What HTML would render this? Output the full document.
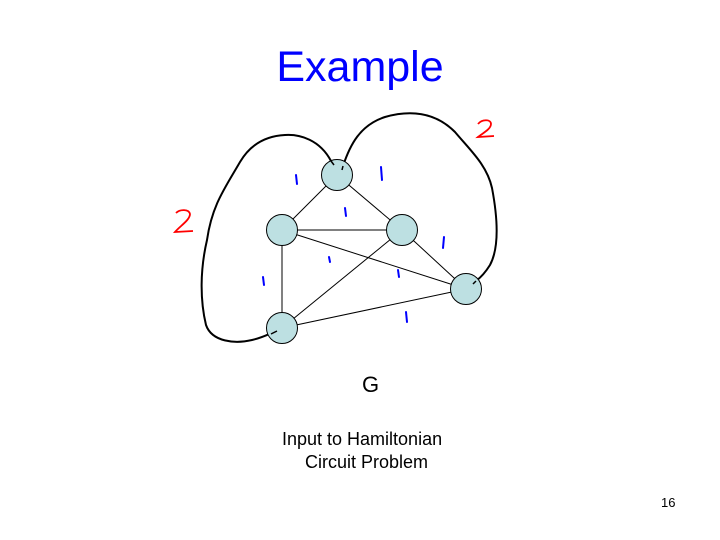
<!DOCTYPE html>
<html><head><style>
body{margin:0;width:720px;height:540px;background:#fff;position:relative;font-family:"Liberation Sans",sans-serif;overflow:hidden}
.t{position:absolute;white-space:nowrap}
</style></head><body>
<div class="t" style="left:0;width:720px;top:43px;text-align:center;font-size:43px;color:#0000ff">Example</div>
<svg width="720" height="540" style="position:absolute;left:0;top:0">
<g stroke="#000" stroke-width="1" fill="none">
<line x1="337" y1="175" x2="282" y2="230"/>
<line x1="337" y1="175" x2="402" y2="230"/>
<line x1="282" y1="230" x2="402" y2="230"/>
<line x1="282" y1="230" x2="466" y2="289"/>
<line x1="282" y1="230" x2="282" y2="328"/>
<line x1="402" y1="230" x2="282" y2="328"/>
<line x1="402" y1="230" x2="466" y2="289"/>
<line x1="282" y1="328" x2="466" y2="289"/>
</g>
<g stroke="#000" stroke-width="2" fill="none">
<path d="M331,161 C320,140 300,134 285,135 C265,136 250,145 240,162 C225,188 212,205 207,240 C200,270 200,300 206,325 C212,342 235,344 252,340 C265,337 270,333 277,331"/>
<path d="M343,166 C350,145 360,125 385,117 C410,110 435,112 455,132 C470,150 487,165 492,188 C499,225 498,250 490,265 C485,273 480,278 476,281"/>
</g>
<g fill="#bde0e2" stroke="#000" stroke-width="1">
<circle cx="337" cy="175" r="15.5"/>
<circle cx="282" cy="230" r="15.5"/>
<circle cx="402" cy="230" r="15.5"/>
<circle cx="466" cy="289" r="15.5"/>
<circle cx="282" cy="328" r="15.5"/>
</g>
<path d="M331,161 L334,165 M343,166 L342,170 M277,331 L271,334 M476,281 L473,284" stroke="#000" stroke-width="1.5"/>
<g stroke="#0000ff" stroke-width="2" fill="none" stroke-linecap="round">
<path d="M296,175 l1,9"/><path d="M381,167 l1,13"/><path d="M345,208 l1,8"/>
<path d="M444,237 l-1,11"/><path d="M329,257 l1,5"/><path d="M398,270 l1,7"/>
<path d="M263,277 l1,8"/><path d="M406,312 l1,10"/>
</g>
<g stroke="#ff0000" stroke-width="1.8" fill="none">
<path d="M176,213 C180,209 189,209 190,214 C190,220 180,226 175,232 L193,231"/>
<path d="M478,124 C482,119 491,119 491,124 C491,129 483,133 478,137 L494,136"/>
</g>
</svg>
<div class="t" style="left:362px;top:372px;font-size:22px">G</div>
<div class="t" style="left:282px;top:428px;font-size:18px;line-height:23px">Input to Hamiltonian</div>
<div class="t" style="left:305px;top:451px;font-size:18px;line-height:23px">Circuit Problem</div>
<div class="t" style="left:661px;top:495px;font-size:13px">16</div>
</body></html>
